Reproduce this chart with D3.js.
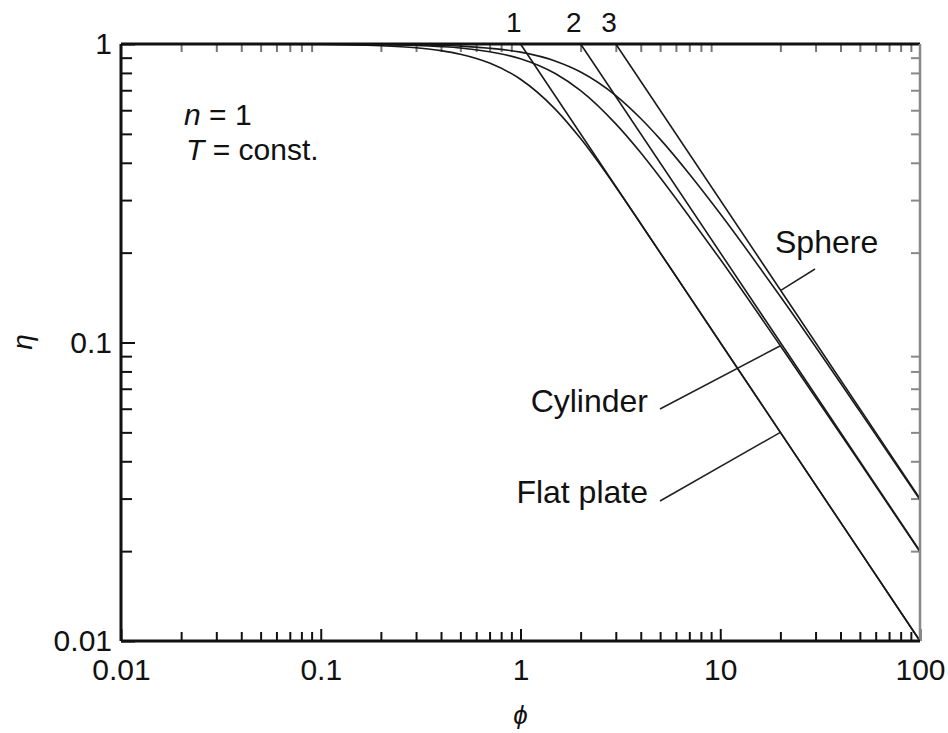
<html>
<head>
<style>
  body { margin: 0; background: #fff; }
  text { font-family: "Liberation Sans", Arial, Helvetica, sans-serif; fill: #111; }
</style>
</head>
<body>
<svg id="chart"></svg>
<script src="https://cdn.jsdelivr.net/npm/d3@7"></script>
<script>
// values
const phi = [0.01, 0.1, 0.2, 0.3, 0.4, 0.5, 0.7, 1, 1.5, 2, 3, 4, 5, 7, 10, 20, 50, 100]
const etaFlatPlate = [1.0, 0.997, 0.987, 0.971, 0.950, 0.924, 0.863, 0.762, 0.603, 0.482, 0.332, 0.250, 0.200, 0.143, 0.100, 0.050, 0.020, 0.010]
const etaCylinder = [1.0, 0.999, 0.995, 0.989, 0.980, 0.970, 0.942, 0.893, 0.795, 0.698, 0.540, 0.432, 0.357, 0.264, 0.190, 0.0975, 0.0396, 0.0199]
const etaSphere = [1.0, 0.999, 0.997, 0.994, 0.989, 0.984, 0.968, 0.939, 0.876, 0.806, 0.672, 0.563, 0.480, 0.367, 0.270, 0.1425, 0.0588, 0.0297]

// asymptotes: eta = 1 at phi = k, down to phi = 100
const asymptoteNames = ["1", "2", "3"]
const asymptoteStartPhi = [1, 2, 3]
const asymptoteEndEta = [0.01, 0.02, 0.03]

const xTickValues = [0.01, 0.1, 1, 10, 100]
const xTickLabels = ["0.01", "0.1", "1", "10", "100"]
const yTickValues = [0.01, 0.1, 1]
const yTickLabels = ["0.01", "0.1", "1"]

const seriesNames = ["Flat plate", "Cylinder", "Sphere"]

//Setup
let width = 948,
    height = 733,
    margin = { top: 44, right: 28, bottom: 92, left: 121 }

let svg = d3.select("#chart").attr("width", width).attr("height", height)

let x = d3.scaleLog().domain([0.01, 100]).range([margin.left, width - margin.right])
let y = d3.scaleLog().domain([0.01, 1]).range([height - margin.bottom, margin.top])

function minorTicks(lo, hi) {
    let out = []
    for (let d = lo; d < hi; d *= 10)
        for (let k = 2; k <= 9; k++) out.push(+(d * k).toPrecision(3))
    return out
}
let xMinor = minorTicks(0.01, 100)
let yMinor = minorTicks(0.01, 1)

let x0 = x.range()[0], x1 = x.range()[1], y0 = y.range()[0], y1 = y.range()[1]

// ticks (all pointing inward)
function tickAxis(axis, values, size, translate, color) {
    let g = svg.append("g")
        .attr("transform", translate)
        .call(axis.tickValues(values).tickSizeInner(-size).tickSizeOuter(0).tickFormat(""))
    g.select(".domain").remove()
    g.selectAll("line").attr("stroke", color).attr("stroke-width", 2)
    return g
}
tickAxis(d3.axisBottom(x), xMinor, 9, `translate(0,${y0})`, "#111")
tickAxis(d3.axisBottom(x), xTickValues, 12, `translate(0,${y0})`, "#111")
tickAxis(d3.axisLeft(y), yMinor, 11, `translate(${x0},0)`, "#111")
tickAxis(d3.axisLeft(y), yTickValues, 14, `translate(${x0},0)`, "#111")
tickAxis(d3.axisTop(x), xMinor, 8, `translate(0,${y1})`, "#777")
tickAxis(d3.axisRight(y), yMinor, 9, `translate(${x1},0)`, "#888")

// tick labels
let xLab = svg.append("g")
    .attr("transform", `translate(0,${y0})`)
    .call(d3.axisBottom(x).tickValues(xTickValues).tickSize(0).tickPadding(18)
        .tickFormat((d, i) => xTickLabels[i]))
xLab.select(".domain").remove()
xLab.selectAll("text").attr("font-size", 30).attr("font-family", null).attr("fill", "#111")

let yLab = svg.append("g")
    .attr("transform", `translate(${x0},0)`)
    .call(d3.axisLeft(y).tickValues(yTickValues).tickSize(0).tickPadding(9)
        .tickFormat((d, i) => yTickLabels[i]))
yLab.select(".domain").remove()
yLab.selectAll("text").attr("font-size", 30).attr("font-family", null).attr("fill", "#111")
d3.selectAll(".tick text").attr("font-family", null)

// curves
let line = d3.line()
    .x(d => x(d[0]))
    .y(d => y(d[1]))
    .curve(d3.curveMonotoneX)

let seriesValues = [etaFlatPlate, etaCylinder, etaSphere]
svg.append("g").selectAll("path")
    .data(seriesValues)
    .enter().append("path")
    .attr("d", vals => line(phi.map((p, i) => [p, vals[i]])))
    .attr("fill", "none")
    .attr("stroke", "#1a1a1a")
    .attr("stroke-width", 1.6)

// asymptotes
svg.append("g").selectAll("line")
    .data(asymptoteStartPhi)
    .enter().append("line")
    .attr("x1", d => x(d)).attr("y1", y(1))
    .attr("x2", x(100)).attr("y2", (d, i) => y(asymptoteEndEta[i]))
    .attr("stroke", "#1a1a1a")
    .attr("stroke-width", 1.6)

svg.append("g").selectAll("text")
    .data(asymptoteStartPhi)
    .enter().append("text")
    .attr("x", d => x(d) + 1)
    .attr("y", 32)
    .attr("text-anchor", "end")
    .attr("font-size", 28)
    .text((d, i) => asymptoteNames[i])

// frame
svg.append("line").attr("x1", x0).attr("x2", x1).attr("y1", y1).attr("y2", y1).attr("stroke", "#111").attr("stroke-width", 3)
svg.append("line").attr("x1", x1).attr("x2", x1).attr("y1", y1).attr("y2", y0).attr("stroke", "#888").attr("stroke-width", 2.5)
svg.append("line").attr("x1", x0).attr("x2", x1).attr("y1", y0).attr("y2", y0).attr("stroke", "#111").attr("stroke-width", 3)
svg.append("line").attr("x1", x0).attr("x2", x0).attr("y1", y1).attr("y2", y0).attr("stroke", "#111").attr("stroke-width", 3)

// curve labels with leader lines (pointing at phi = 20)
let notes = [
    { s: 2, lx: 775, ly: 253, anchor: "start", ax: 815, ay: 269 },
    { s: 1, lx: 648, ly: 412, anchor: "end", ax: 660, ay: 409 },
    { s: 0, lx: 648, ly: 503, anchor: "end", ax: 660, ay: 501 }
]
let iAt = phi.indexOf(20)
notes.forEach(n => {
    svg.append("line")
        .attr("x1", n.ax).attr("y1", n.ay)
        .attr("x2", x(20)).attr("y2", y(seriesValues[n.s][iAt]) - (n.s == 2 ? 6 : 0))
        .attr("stroke", "#222").attr("stroke-width", 1.5)
    svg.append("text")
        .attr("x", n.lx).attr("y", n.ly)
        .attr("text-anchor", n.anchor)
        .attr("font-size", 32)
        .text(seriesNames[n.s])
})

// condition text
let cond = svg.append("text").attr("x", 184).attr("y", 125).attr("font-size", 30)
cond.append("tspan").attr("font-style", "italic").text("n")
cond.append("tspan").text(" = 1")
let cond2 = svg.append("text").attr("x", 186).attr("y", 160).attr("font-size", 30)
cond2.append("tspan").attr("font-style", "italic").text("T")
cond2.append("tspan").text(" = const.")

// axis titles
svg.append("text")
    .attr("x", x(1)).attr("y", 724)
    .attr("text-anchor", "middle")
    .attr("font-size", 26)
    .attr("font-style", "italic")
    .text("ϕ")

svg.append("text")
    .attr("transform", "translate(32,342) rotate(-90)")
    .attr("text-anchor", "middle")
    .attr("font-size", 28)
    .attr("font-style", "italic")
    .text("η")
</script>
</body>
</html>
